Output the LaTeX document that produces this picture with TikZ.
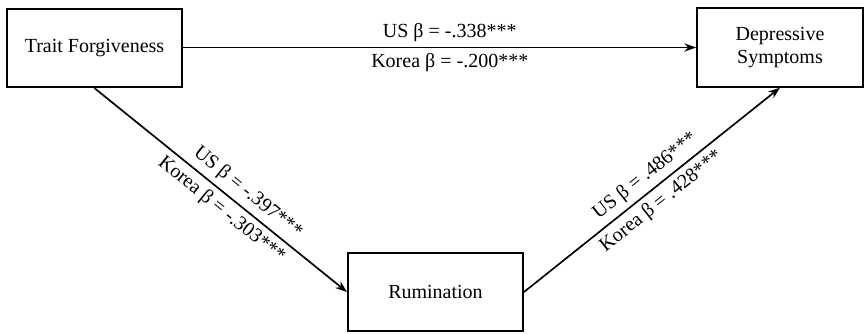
\documentclass[tikz,border=0pt]{standalone}
\usepackage{fontspec}
\setmainfont{Liberation Serif}
\usetikzlibrary{arrows.meta}
\tikzset{
  box/.style={draw,line width=1.2pt,minimum width=105pt,minimum height=47pt,align=center,font=\fontsize{12}{13.5}\selectfont},
  path/.style={line width=1pt,-{Stealth[length=7pt,width=5pt]}},
  coef/.style={fill=none,sloped,font=\fontsize{12}{13.5}\selectfont,inner sep=3pt}
}
\begin{document}
\begin{tikzpicture}[x=0.6pt,y=0.6pt]
      \useasboundingbox (0,0) rectangle (864,333);
      \node[box] (tf) at (94.5,285) {Trait Forgiveness};
      \node[box,minimum width=99.6pt] (ds) at (780,285.5) {Depressive\\Symptoms};
      \node[box] (rum) at (435.5,41) {Rumination};
      \draw[path] (tf.east |- ds.west) -- (ds.west)
        node[coef,above,pos=0.52] {US β = -.338***}
        node[coef,below,pos=0.52] {Korea β = -.200***};
      \draw[path] (tf.south) -- (rum.west)
        node[coef,above,pos=0.57] {US β = -.397***}
        node[coef,below,pos=0.54] {Korea β = -.303***};
      \draw[path] (rum.east) -- (ds.south)
        node[coef,above,pos=0.51] {US β = .486***}
        node[coef,below,pos=0.5] {Korea β = .428***};
    \end{tikzpicture}
\end{document}
